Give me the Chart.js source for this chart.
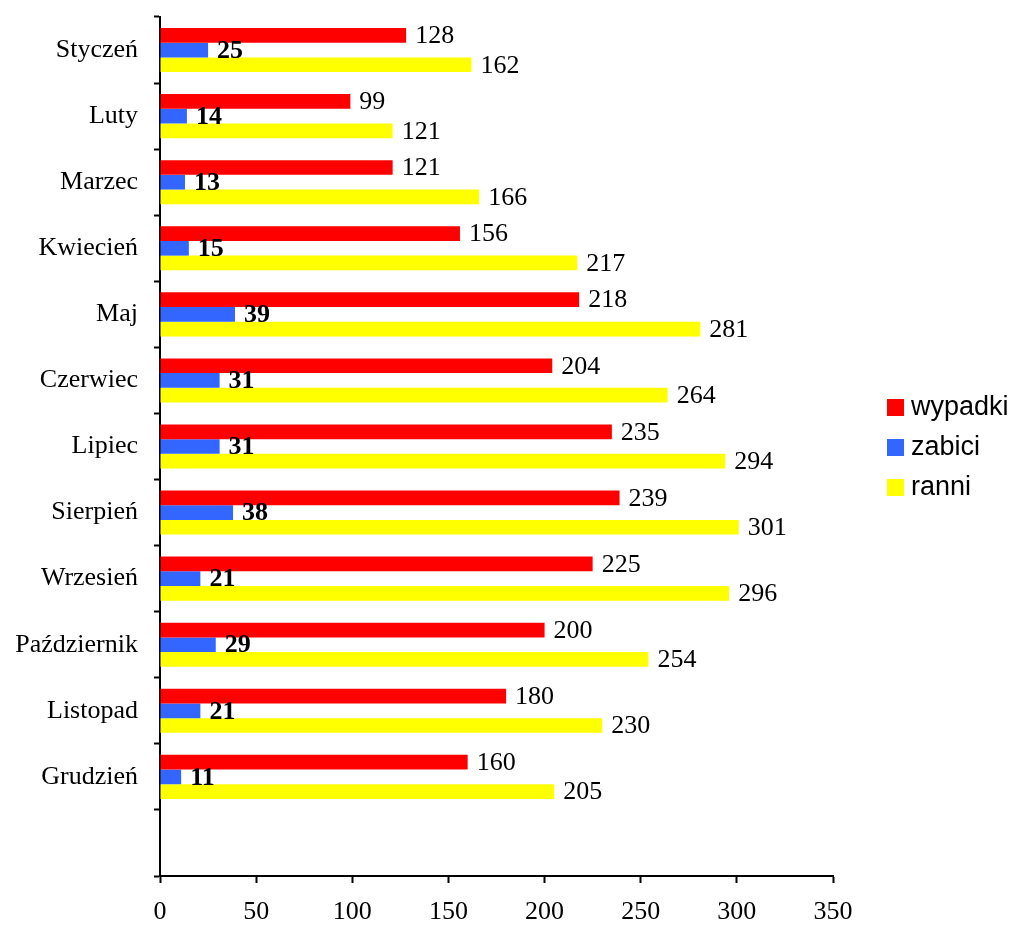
<!DOCTYPE html>
<html>
<head>
<meta charset="utf-8">
<script src="https://cdn.jsdelivr.net/npm/chart.js@4.4.0/dist/chart.umd.min.js"></script>
<style>
  html, body { margin: 0; padding: 0; background: #fff; }
  #wrap { width: 1018px; height: 929px; }
</style>
</head>
<body>
<div id="wrap"><canvas id="accidents-chart" width="1018" height="929"></canvas></div>
<script>
// Data
const months = ['Styczeń', 'Luty', 'Marzec', 'Kwiecień', 'Maj', 'Czerwiec', 'Lipiec', 'Sierpień', 'Wrzesień', 'Październik', 'Listopad', 'Grudzień'];
const wypadki = [128, 99, 121, 156, 218, 204, 235, 239, 225, 200, 180, 160];
const zabici = [25, 14, 13, 15, 39, 31, 31, 38, 21, 29, 21, 11];
const ranni = [162, 121, 166, 217, 281, 264, 294, 301, 296, 254, 230, 205];
const seriesNames = ['wypadki', 'zabici', 'ranni'];
const seriesColors = ['#FF0000', '#3366FF', '#FFFF00'];
const xTicks = [0, 50, 100, 150, 200, 250, 300, 350];

const serif = '"Liberation Serif", "Times New Roman", serif';
const sans = '"Liberation Sans", Arial, sans-serif';

// value labels next to each bar (blue ones bold)
const valueLabels = {
  id: 'valueLabels',
  afterDatasetsDraw(chart) {
    const ctx = chart.ctx;
    ctx.save();
    ctx.fillStyle = '#000';
    ctx.textBaseline = 'middle';
    ctx.textAlign = 'left';
    chart.data.datasets.forEach((ds, di) => {
      const meta = chart.getDatasetMeta(di);
      ctx.font = (di === 1 ? 'bold ' : '') + '26px ' + serif;
      meta.data.forEach((bar, i) => {
        const v = ds.data[i];
        if (v === undefined || v === null) return;
        ctx.fillText(String(v), bar.x + 9, bar.y + 1);
      });
    });
    ctx.restore();
  }
};

// legend on the right, drawn by hand
const sideLegend = {
  id: 'sideLegend',
  afterDraw(chart) {
    const ctx = chart.ctx;
    ctx.save();
    ctx.font = '27px ' + sans;
    ctx.textBaseline = 'middle';
    ctx.textAlign = 'left';
    seriesNames.forEach((name, i) => {
      const y = 407 + i * 40;
      ctx.fillStyle = seriesColors[i];
      ctx.fillRect(887, y - 8, 17, 17);
      ctx.fillStyle = '#000';
      ctx.fillText(name, 911, y + 1);
    });
    ctx.restore();
  }
};

const datasets = [wypadki, zabici, ranni].map((vals, i) => ({
  label: seriesNames[i],
  data: vals,
  backgroundColor: seriesColors[i],
  borderWidth: 0,
  categoryPercentage: 0.667,
  barPercentage: 1.0
}));

new Chart(document.getElementById('accidents-chart').getContext('2d'), {
  type: 'bar',
  data: {
    labels: [...months, ''],
    datasets
  },
  options: {
    indexAxis: 'y',
    responsive: false,
    animation: false,
    layout: { padding: { left: 0, right: 185, top: 17, bottom: 0 } },
    plugins: {
      legend: { display: false },
      tooltip: { enabled: false }
    },
    scales: {
      x: {
        min: 0,
        max: 350,
        afterBuildTicks: (scale) => { scale.ticks = xTicks.map(v => ({ value: v })); },
        afterFit: (scale) => { scale.height = 53; },
        border: { display: true, color: '#000', width: 2 },
        grid: { drawOnChartArea: false, drawTicks: true, tickLength: 7, tickColor: '#000', tickWidth: 2 },
        ticks: { color: '#000', font: { family: serif, size: 26 }, padding: 14, maxRotation: 0 }
      },
      y: {
        afterFit: (scale) => { scale.width = 160; scale.paddingTop = 0; scale.paddingBottom = 0; },
        border: { display: true, color: '#000', width: 2 },
        grid: { offset: true, drawOnChartArea: false, drawTicks: true, tickLength: 6, tickColor: '#000', tickWidth: 2 },
        ticks: { color: '#000', font: { family: serif, size: 26 }, padding: 16, autoSkip: false }
      }
    }
  },
  plugins: [valueLabels, sideLegend]
});
</script>
</body>
</html>
